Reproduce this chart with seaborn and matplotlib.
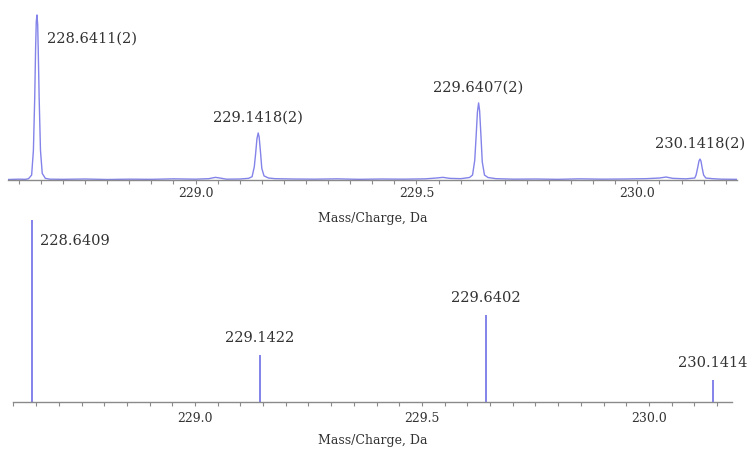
import numpy as np
import pandas as pd
import seaborn as sns
import matplotlib
matplotlib.use("Agg")
import matplotlib.pyplot as plt
from matplotlib.ticker import MultipleLocator, FormatStrFormatter

sns.set_theme(style="white")
plt.rcParams['font.family'] = ['DejaVu Serif']

top_mz = [228.5755, 228.600, 228.615, 228.622, 228.629, 228.633, 228.636, 228.638, 228.6395,
          228.6411, 228.6427, 228.644, 228.646, 228.649, 228.653, 228.660, 228.670,
          228.70, 228.75, 228.80, 228.85, 228.90, 228.95, 229.00, 229.03, 229.045, 229.055,
          229.07, 229.10, 229.12,
          229.128, 229.133, 229.136, 229.139, 229.1418, 229.144, 229.147, 229.150, 229.155,
          229.165, 229.18,
          229.22, 229.27, 229.32, 229.37, 229.42, 229.47, 229.52, 229.545, 229.56, 229.575,
          229.60, 229.62,
          229.627, 229.632, 229.635, 229.638, 229.6407, 229.643, 229.646, 229.649, 229.654,
          229.662, 229.68,
          229.72, 229.77, 229.82, 229.87, 229.92, 229.97, 230.02, 230.05, 230.065, 230.08,
          230.11, 230.13,
          230.133, 230.137, 230.1395, 230.1418, 230.144, 230.147, 230.150, 230.155, 230.17,
          230.19, 230.2256]
top_int = [0.3, 0.5, 0.4, 0.8, 3, 18, 50, 80, 96,
           100, 94, 78, 50, 18, 4, 1, 0.5,
           0.4, 0.6, 0.3, 0.5, 0.4, 0.7, 0.5, 0.8, 1.6, 1.2,
           0.5, 0.6, 1.0,
           2, 8, 16, 25, 28.5, 26, 17, 7, 2.5,
           1.2, 0.8,
           0.6, 0.5, 0.7, 0.4, 0.6, 0.5, 0.7, 1.2, 1.6, 1.0,
           0.8, 1.5,
           3, 12, 26, 41, 46.7, 42, 27, 11, 3,
           1.5, 0.8,
           0.5, 0.6, 0.4, 0.7, 0.5, 0.6, 0.8, 1.2, 1.8, 1.0,
           0.7, 1.2,
           3, 8, 11.5, 12.7, 11.5, 7, 3, 1.2, 0.8,
           0.5, 0.4]
top_peak_mz = [228.6411, 229.1418, 229.6407, 230.1418]
top_peak_int = [100, 28.5, 46.7, 12.7]
top_labels = ["228.6411(2)", "229.1418(2)", "229.6407(2)", "230.1418(2)"]

# ---- Theoretical (stick) spectrum ----
bot_mz = [228.6409, 229.1422, 229.6402, 230.1414]
bot_int = [100, 25.8, 47.8, 12.1]
bot_labels = ["228.6409", "229.1422", "229.6402", "230.1414"]

xlabel = "Mass/Charge, Da"

line_color = "#8383ea"
axis_color = "#8a8a8a"
text_color = "#333333"

W, H = 747, 450
fig = plt.figure(figsize=(W / 100, H / 100), dpi=100)

def px_axes(left, right, top, bottom):
    return fig.add_axes([left / W, 1 - bottom / H, (right - left) / W, (bottom - top) / H])

ax1 = px_axes(8, 737, 10, 180)
ax2 = px_axes(13, 732, 220, 402)

df_top = pd.DataFrame({"mz": top_mz, "int": top_int})
sns.lineplot(data=df_top, x="mz", y="int", ax=ax1, color=line_color, lw=1.0,
             estimator=None)
ax1.set_xlim(228.5755, 230.2256)
ax1.set_ylim(0, 103)

ax2.vlines(bot_mz, 0, bot_int, color=line_color, lw=1.4)
ax2.set_xlim(228.599, 230.183)
ax2.set_ylim(0, 100)

for ax in (ax1, ax2):
    for s in ("top", "right", "left"):
        ax.spines[s].set_visible(False)
    ax.spines["bottom"].set_color(axis_color)
    ax.spines["bottom"].set_linewidth(1.0)
    ax.set_yticks([])
    ax.set_ylabel("")
    ax.xaxis.set_major_locator(MultipleLocator(0.5))
    ax.xaxis.set_minor_locator(MultipleLocator(0.05))
    ax.xaxis.set_major_formatter(FormatStrFormatter("%.1f"))
    ax.tick_params(axis="x", which="both", direction="out", length=3, width=0.8,
                   color=axis_color, labelsize=9, labelcolor=text_color, bottom=True)
    ax.patch.set_alpha(0)

ax1.tick_params(axis="x", which="major", pad=2)
ax2.tick_params(axis="x", which="major", pad=4)
ax1.set_xlabel(xlabel, fontsize=9, color=text_color, labelpad=9)
ax2.set_xlabel(xlabel, fontsize=9, color=text_color, labelpad=7)

# labels on peaks
for i, (m, h, t) in enumerate(zip(top_peak_mz, top_peak_int, top_labels)):
    if i == 0:
        ax1.annotate(t, xy=(m, h), xytext=(7, -17), textcoords="offset points",
                     ha="left", va="center", fontsize=10.5, color=text_color)
    else:
        ax1.annotate(t, xy=(m, h), xytext=(0, 6), textcoords="offset points",
                     ha="center", va="bottom", fontsize=10.5, color=text_color)

for i, (m, h, t) in enumerate(zip(bot_mz, bot_int, bot_labels)):
    if i == 0:
        ax2.annotate(t, xy=(m, h), xytext=(6, -15), textcoords="offset points",
                     ha="left", va="center", fontsize=10.5, color=text_color)
    else:
        ax2.annotate(t, xy=(m, h), xytext=(0, 7), textcoords="offset points",
                     ha="center", va="bottom", fontsize=10.5, color=text_color)

fig.savefig("out.png", dpi=100, facecolor="white")
